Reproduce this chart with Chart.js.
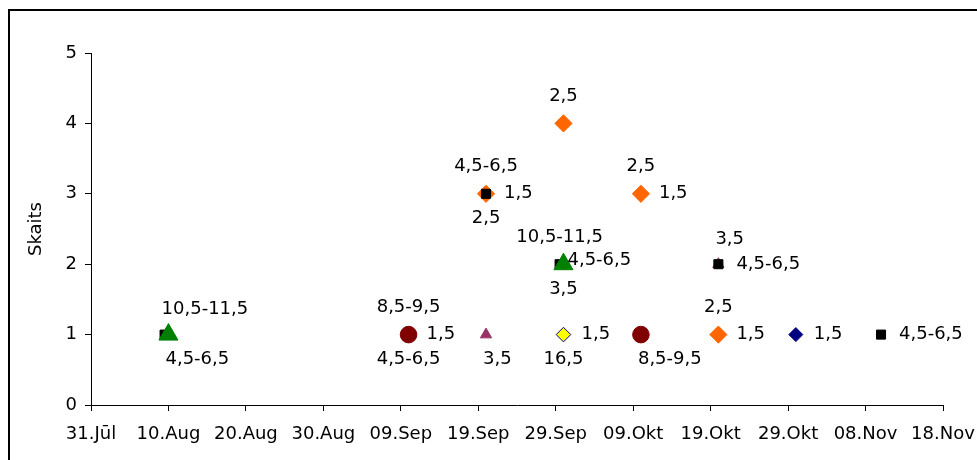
<!DOCTYPE html>
<html>
<head>
<meta charset="utf-8">
<script src="https://cdn.jsdelivr.net/npm/chart.js@4"></script>
<style>
  html, body { margin: 0; padding: 0; background: #fff; overflow: hidden; }
  #frame { position: absolute; left: 8px; top: 9px; width: 1000px; height: 500px; border: 2px solid #000; }
  #chart { position: absolute; left: 0; top: 0; }
</style>
</head>
<body>
<div id="frame"></div>
<canvas id="chart" width="977" height="460"></canvas>
<script>
// x = days after 31.Jūl, y = count
const xTickLabels = ['31.Jūl', '10.Aug', '20.Aug', '30.Aug', '09.Sep', '19.Sep', '29.Sep', '09.Okt', '19.Okt', '29.Okt', '08.Nov', '18.Nov'];
const yTitle = 'Skaits';

const greenDays = [10, 61];
const greenCounts = [1, 2];
const greenNotes = [[0, '4,5-6,5', 'belowStart'], [1, '4,5-6,5', 'rightNear'], [1, '3,5', 'below']];

const squareDays = [9.5, 51, 60.5, 81, 102];
const squareCounts = [1, 3, 2, 2, 1];
const squareNotes = [[0, '10,5-11,5', 'aboveStart'], [1, '4,5-6,5', 'above'], [2, '10,5-11,5', 'above'], [3, '4,5-6,5', 'right'], [4, '4,5-6,5', 'right']];

const plumDays = [51, 81];
const plumCounts = [1, 2];
const plumNotes = [[0, '3,5', 'belowStart'], [1, '3,5', 'aboveStart']];

const orangeDays = [51, 61, 71, 81];
const orangeCounts = [3, 4, 3, 1];
const orangeNotes = [[0, '1,5', 'right'], [0, '2,5', 'below'], [1, '2,5', 'above'], [2, '2,5', 'above'], [2, '1,5', 'right'], [3, '2,5', 'above'], [3, '1,5', 'right']];

const circleDays = [41, 71];
const circleCounts = [1, 1];
const circleNotes = [[0, '8,5-9,5', 'above'], [0, '1,5', 'right'], [0, '4,5-6,5', 'below'], [1, '8,5-9,5', 'belowStart']];

const yellowDays = [61];
const yellowCounts = [1];
const yellowNotes = [[0, '1,5', 'right'], [0, '16,5', 'below']];

const navyDays = [91];
const navyCounts = [1];
const navyNotes = [[0, '1,5', 'right']];

const toPoints = (days, counts) => days.map((d, i) => ({ x: d, y: counts[i] }));

// where a note sits relative to its marker
const notePlaces = {
  above: { align: 'center', dx: 0, dy: -27 },
  below: { align: 'center', dx: 0, dy: 25 },
  right: { align: 'left', dx: 18, dy: 0 },
  rightNear: { align: 'left', dx: 4, dy: -4 },
  aboveStart: { align: 'left', dx: -3, dy: -25 },
  belowStart: { align: 'left', dx: -3, dy: 25 }
};

const labelFont = '18px "DejaVu Sans"';

const pointNotes = {
  id: 'pointNotes',
  afterDatasetsDraw(chart) {
    const ctx = chart.ctx;
    ctx.save();
    ctx.font = labelFont;
    ctx.fillStyle = '#000';
    ctx.textBaseline = 'middle';
    chart.data.datasets.forEach((ds, i) => {
      const meta = chart.getDatasetMeta(i);
      ds.notes.forEach(([idx, text, pos]) => {
        const pt = meta.data[idx];
        const p = notePlaces[pos];
        ctx.textAlign = p.align;
        ctx.fillText(text, pt.x + p.dx, pt.y + p.dy);
      });
    });
    ctx.restore();
  }
};

Chart.defaults.color = '#000';
Chart.defaults.font.family = '"DejaVu Sans"';
Chart.defaults.font.size = 18;

new Chart(document.getElementById('chart'), {
  type: 'scatter',
  data: {
    datasets: [
      { data: toPoints(greenDays, greenCounts), notes: greenNotes, pointStyle: 'triangle', pointRadius: 11, backgroundColor: '#008000', borderColor: '#008000', borderWidth: 1 },
      { data: toPoints(squareDays, squareCounts), notes: squareNotes, pointStyle: 'rect', pointRadius: 6.4, backgroundColor: '#000', borderColor: '#000', borderWidth: 1 },
      { data: toPoints(plumDays, plumCounts), notes: plumNotes, pointStyle: 'triangle', pointRadius: 6.5, backgroundColor: '#993366', borderColor: '#993366', borderWidth: 1 },
      { data: toPoints(orangeDays, orangeCounts), notes: orangeNotes, pointStyle: 'rectRot', pointRadius: 8.6, backgroundColor: '#FF6600', borderColor: '#FF6600', borderWidth: 1 },
      { data: toPoints(circleDays, circleCounts), notes: circleNotes, pointStyle: 'circle', pointRadius: 8.3, backgroundColor: '#800000', borderColor: '#800000', borderWidth: 1 },
      { data: toPoints(yellowDays, yellowCounts), notes: yellowNotes, pointStyle: 'rectRot', pointRadius: 7.3, backgroundColor: '#FFFF00', borderColor: '#000080', borderWidth: 1 },
      { data: toPoints(navyDays, navyCounts), notes: navyNotes, pointStyle: 'rectRot', pointRadius: 7, backgroundColor: '#000080', borderColor: '#000080', borderWidth: 1 }
    ]
  },
  options: {
    responsive: false,
    animation: false,
    layout: { padding: { top: 53, right: 34, bottom: 0, left: 0 } },
    plugins: { legend: { display: false }, tooltip: { enabled: false } },
    scales: {
      x: {
        type: 'linear',
        min: 0,
        max: 110,
        afterFit: (scale) => { scale.height = 55; scale.paddingRight = 0; scale.paddingLeft = 0; },
        afterBuildTicks: (scale) => { scale.ticks = xTickLabels.map((_, i) => ({ value: i * 10 })); },
        ticks: {
          autoSkip: false,
          maxRotation: 0,
          padding: 13,
          callback: (v, i) => xTickLabels[i]
        },
        grid: { drawOnChartArea: false, drawTicks: true, tickLength: 6, color: '#000' },
        border: { color: '#000' }
      },
      y: {
        min: 0,
        max: 5,
        afterFit: (scale) => { scale.width = 91; },
        ticks: { stepSize: 1, padding: 8 },
        grid: { drawOnChartArea: false, drawTicks: true, tickLength: 6, color: '#000' },
        border: { color: '#000' },
        title: { display: true, text: yTitle, padding: { top: 26, bottom: 0 } }
      }
    }
  },
  plugins: [pointNotes]
});
</script>
</body>
</html>
